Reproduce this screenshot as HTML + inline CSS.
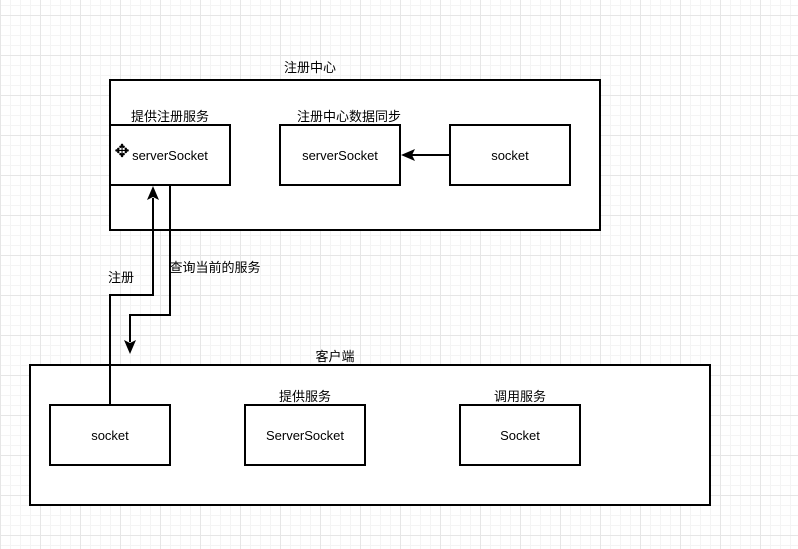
<!DOCTYPE html>
<html><head><meta charset="utf-8"><style>
html,body{margin:0;padding:0}
body{width:798px;height:549px;overflow:hidden;background-color:#fff;
background-image:
linear-gradient(#e6e6e6 1px,transparent 1px),
linear-gradient(90deg,#e6e6e6 1px,transparent 1px),
linear-gradient(#f4f4f4 1px,transparent 1px),
linear-gradient(90deg,#f4f4f4 1px,transparent 1px);
background-size:40px 40px,40px 40px,10px 10px,10px 10px;
background-position:0 15px,0 0,0 5px,0 0;}
svg text{font-family:"Liberation Sans","Noto Sans CJK SC",sans-serif;font-size:13px;fill:#000}
</style></head><body>
<svg width="798" height="549" style="position:absolute;left:0;top:0">
<g fill="#fff" stroke="#000" stroke-width="2">
<rect x="110" y="80" width="490" height="150"/>
<rect x="110" y="125" width="120" height="60"/>
<rect x="280" y="125" width="120" height="60"/>
<rect x="450" y="125" width="120" height="60"/>
<rect x="30" y="365" width="680" height="140"/>
<rect x="50" y="405" width="120" height="60"/>
<rect x="245" y="405" width="120" height="60"/>
<rect x="460" y="405" width="120" height="60"/>
</g>
<g fill="none" stroke="#000" stroke-width="2">
<polyline points="110,405 110,295 153,295 153,198"/>
<polyline points="170,185 170,315 130,315 130,342"/>
<line x1="450" y1="155" x2="412" y2="155"/>
</g>
<g fill="#000">
<polygon points="153,186 147,200 153,197 159,200"/>
<polygon points="130,354 124,340 130,343 136,340"/>
<polygon points="401,155 415,149 412,155 415,161"/>
</g>
<text x="310" y="72" text-anchor="middle">注册中心</text>
<text x="170" y="121" text-anchor="middle">提供注册服务</text>
<text x="349" y="121" text-anchor="middle">注册中心数据同步</text>
<text x="170" y="160" text-anchor="middle">serverSocket</text>
<text x="340" y="160" text-anchor="middle">serverSocket</text>
<text x="510" y="160" text-anchor="middle">socket</text>
<text x="121" y="282" text-anchor="middle">注册</text>
<text x="215" y="272" text-anchor="middle">查询当前的服务</text>
<text x="335" y="361" text-anchor="middle">客户端</text>
<text x="305" y="401" text-anchor="middle">提供服务</text>
<text x="520" y="401" text-anchor="middle">调用服务</text>
<text x="110" y="440" text-anchor="middle">socket</text>
<text x="305" y="440" text-anchor="middle">ServerSocket</text>
<text x="520" y="440" text-anchor="middle">Socket</text>
<text x="122" y="157" text-anchor="middle" style="font-size:18px">✥</text>
</svg>
</body></html>
